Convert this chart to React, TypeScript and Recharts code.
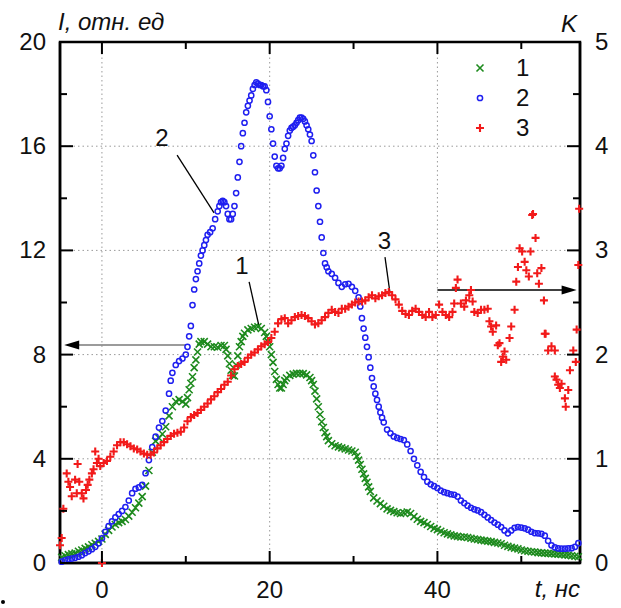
import React from "react";
import {
  ScatterChart,
  Scatter,
  XAxis,
  YAxis,
  Legend,
  ReferenceLine,
  ReferenceDot,
  ReferenceArea,
} from "recharts";

// curve 1 (green x), I, rel. units
const series1: [number, number][] = [
  [-4.8, 0.22], [-4.4, 0.28], [-4.0, 0.32], [-3.6, 0.35], [-3.2, 0.38], [-2.8, 0.45], [-2.4, 0.5], [-2.0, 0.56],
  [-1.6, 0.62], [-1.2, 0.7], [-0.8, 0.76], [-0.4, 0.83], [0.0, 0.92], [0.4, 1.1], [0.8, 1.25], [1.2, 1.38],
  [1.6, 1.48], [2.0, 1.55], [2.4, 1.6], [2.8, 1.67], [3.2, 1.8], [3.6, 1.95], [4.0, 2.12], [4.4, 2.3],
  [4.8, 2.55], [5.2, 2.95], [5.6, 3.55], [6.0, 4.25], [6.4, 4.68], [6.8, 4.8], [7.2, 4.95], [7.6, 5.23],
  [8.0, 5.65], [8.4, 6.0], [8.8, 6.2], [9.2, 6.27], [9.6, 6.2], [10.0, 6.1], [10.2, 6.35], [10.4, 6.65],
  [10.6, 6.9], [10.8, 7.15], [11.0, 7.5], [11.2, 7.8], [11.4, 8.1], [11.6, 8.4], [11.8, 8.5], [12.2, 8.5],
  [12.6, 8.4], [13.0, 8.3], [13.4, 8.3], [13.8, 8.28], [14.2, 8.35], [14.6, 8.35], [14.8, 8.2], [15.0, 7.95],
  [15.2, 7.65], [15.4, 7.4], [15.6, 7.2], [15.8, 7.18], [16.0, 7.6], [16.2, 7.95], [16.4, 8.3], [16.6, 8.5],
  [16.8, 8.7], [17.0, 8.82], [17.4, 8.95], [17.8, 9.0], [18.2, 9.05], [18.6, 9.07], [19.0, 9.0], [19.4, 8.85],
  [19.6, 8.7], [19.8, 8.5], [20.0, 8.3], [20.2, 8.0], [20.4, 7.7], [20.6, 7.35], [20.8, 7.05], [21.0, 6.85],
  [21.2, 6.72], [21.4, 6.72], [21.6, 6.85], [21.8, 7.0], [22.0, 7.1], [22.4, 7.2], [22.8, 7.25], [23.2, 7.28],
  [23.6, 7.28], [24.0, 7.27], [24.4, 7.22], [24.8, 7.12], [25.0, 7.0], [25.2, 6.85], [25.4, 6.6], [25.6, 6.3],
  [25.8, 6.0], [26.0, 5.7], [26.2, 5.42], [26.4, 5.2], [26.6, 5.0], [26.8, 4.85], [27.0, 4.7], [27.4, 4.58],
  [27.8, 4.5], [28.2, 4.46], [28.6, 4.42], [29.0, 4.38], [29.4, 4.34], [29.8, 4.3], [30.2, 4.25], [30.4, 4.1],
  [30.6, 3.95], [30.8, 3.78], [31.0, 3.6], [31.2, 3.42], [31.4, 3.25], [31.6, 3.1], [31.8, 2.92], [32.0, 2.75],
  [32.4, 2.5], [32.8, 2.38], [33.2, 2.28], [33.6, 2.18], [34.0, 2.08], [34.4, 2.02], [34.8, 1.97], [35.2, 1.93],
  [35.6, 1.9], [36.0, 1.93], [36.4, 1.96], [36.8, 1.9], [37.2, 1.78], [37.6, 1.68], [38.0, 1.6], [38.4, 1.55],
  [38.8, 1.48], [39.2, 1.4], [39.6, 1.33], [40.0, 1.28], [40.4, 1.22], [40.8, 1.16], [41.2, 1.12], [41.6, 1.08],
  [42.0, 1.04], [42.4, 1.02], [42.8, 1.0], [43.2, 1.0], [43.6, 0.98], [44.0, 0.95], [44.4, 0.92], [44.8, 0.9],
  [45.2, 0.88], [45.6, 0.86], [46.0, 0.84], [46.4, 0.82], [46.8, 0.79], [47.2, 0.77], [47.6, 0.74], [48.0, 0.68],
  [48.4, 0.64], [48.8, 0.6], [49.2, 0.57], [49.6, 0.54], [50.0, 0.5], [50.4, 0.47], [50.8, 0.45], [51.2, 0.43],
  [51.6, 0.42], [52.0, 0.4], [52.4, 0.39], [52.8, 0.38], [53.2, 0.37], [53.6, 0.36], [54.0, 0.35], [54.4, 0.34],
  [54.8, 0.33], [55.2, 0.31], [55.6, 0.3], [56.0, 0.28], [56.4, 0.26], [56.8, 0.24],
];

// curve 2 (blue circles), I, rel. units
const series2: [number, number][] = [
  [-4.8, 0.05], [-4.4, 0.1], [-4.0, 0.14], [-3.6, 0.17], [-3.2, 0.2], [-2.8, 0.24], [-2.4, 0.3], [-2.0, 0.38],
  [-1.6, 0.45], [-1.2, 0.53], [-0.8, 0.62], [-0.4, 0.76], [0.0, 0.95], [0.4, 1.2], [0.8, 1.42], [1.2, 1.6],
  [1.6, 1.75], [2.0, 1.88], [2.4, 2.0], [2.8, 2.15], [3.2, 2.4], [3.6, 2.68], [4.0, 2.85], [4.4, 2.9],
  [4.8, 3.0], [5.2, 3.45], [5.6, 3.95], [6.0, 4.45], [6.4, 4.85], [6.8, 5.2], [7.2, 5.45], [7.6, 5.85],
  [8.0, 6.5], [8.2, 7.0], [8.4, 7.3], [8.8, 7.6], [9.2, 7.75], [9.6, 7.85], [10.0, 8.0], [10.2, 8.3],
  [10.4, 8.7], [10.6, 9.1], [10.8, 9.9], [11.0, 10.5], [11.2, 10.9], [11.4, 11.2], [11.6, 11.5], [11.8, 11.8],
  [12.0, 12.0], [12.2, 12.2], [12.4, 12.4], [12.6, 12.6], [12.9, 12.7], [13.2, 12.85], [13.5, 13.2], [13.8, 13.5],
  [14.0, 13.7], [14.2, 13.85], [14.4, 13.9], [14.6, 13.85], [14.8, 13.7], [15.0, 13.4], [15.2, 13.2], [15.4, 13.2],
  [15.6, 13.4], [15.8, 13.7], [16.0, 14.2], [16.2, 14.8], [16.4, 15.4], [16.6, 16.0], [16.8, 16.5], [17.0, 16.9],
  [17.2, 17.3], [17.4, 17.55], [17.6, 17.75], [17.8, 17.95], [18.0, 18.2], [18.2, 18.35], [18.4, 18.45], [18.6, 18.4],
  [18.8, 18.35], [19.0, 18.35], [19.2, 18.3], [19.4, 18.3], [19.6, 18.15], [19.8, 17.7], [20.0, 17.15], [20.2, 16.65],
  [20.4, 16.1], [20.6, 15.6], [20.8, 15.25], [21.0, 15.15], [21.2, 15.15], [21.4, 15.25], [21.6, 15.55], [21.8, 15.9],
  [22.0, 16.1], [22.2, 16.4], [22.4, 16.6], [22.6, 16.7], [22.8, 16.75], [23.0, 16.8], [23.2, 16.9], [23.4, 17.0],
  [23.6, 17.1], [23.8, 17.1], [24.0, 17.05], [24.2, 16.95], [24.4, 16.8], [24.6, 16.65], [24.8, 16.45], [25.0, 16.2],
  [25.2, 15.65], [25.4, 15.0], [25.6, 14.3], [25.8, 13.7], [26.0, 13.1], [26.2, 12.5], [26.4, 11.9], [26.6, 11.5],
  [26.8, 11.35], [27.0, 11.2], [27.4, 11.1], [27.8, 10.95], [28.2, 10.75], [28.6, 10.6], [29.0, 10.7], [29.4, 10.72],
  [29.8, 10.6], [30.2, 10.45], [30.6, 10.2], [30.8, 9.85], [31.0, 9.4], [31.2, 9.0], [31.4, 8.65], [31.6, 8.3],
  [31.8, 7.9], [32.0, 7.5], [32.2, 7.1], [32.4, 6.78], [32.6, 6.5], [32.8, 6.26], [33.0, 6.0], [33.2, 5.78],
  [33.4, 5.58], [33.6, 5.4], [34.0, 5.12], [34.4, 4.98], [34.8, 4.86], [35.2, 4.8], [35.6, 4.76], [36.0, 4.72],
  [36.4, 4.55], [36.8, 4.3], [37.2, 4.0], [37.6, 3.75], [38.0, 3.5], [38.4, 3.3], [38.8, 3.12], [39.2, 3.02],
  [39.6, 2.95], [40.0, 2.88], [40.4, 2.78], [40.8, 2.72], [41.2, 2.68], [41.6, 2.64], [42.0, 2.62], [42.4, 2.55],
  [42.8, 2.4], [43.2, 2.3], [43.6, 2.2], [44.0, 2.12], [44.4, 2.06], [44.8, 2.02], [45.2, 1.95], [45.6, 1.85],
  [46.0, 1.75], [46.4, 1.65], [46.8, 1.55], [47.2, 1.47], [47.6, 1.38], [48.0, 1.25], [48.4, 1.14], [48.8, 1.25],
  [49.2, 1.35], [49.6, 1.38], [50.0, 1.36], [50.4, 1.33], [50.8, 1.28], [51.2, 1.2], [51.6, 1.15], [52.0, 1.14],
  [52.4, 1.12], [52.8, 1.05], [53.2, 0.85], [53.6, 0.68], [54.0, 0.6], [54.4, 0.56], [54.8, 0.55], [55.2, 0.55],
  [55.6, 0.56], [56.0, 0.57], [56.4, 0.62], [56.8, 0.76],
];

// curve 3 (red plus), K on right axis
const series3: [number, number][] = [
  [-5.0, 0.17], [-4.8, 0.24], [-4.6, 0.52], [-4.2, 0.86], [-4.0, 0.78], [-3.8, 0.73], [-3.6, 0.64], [-3.2, 0.8],
  [-3.0, 0.67], [-2.9, 0.95], [-2.7, 0.78], [-2.4, 0.67], [-2.2, 0.62], [-1.9, 0.7], [-1.7, 0.75], [-1.5, 0.8],
  [-1.2, 0.86], [-1.0, 0.9], [-0.8, 1.07], [-0.6, 0.96], [-0.4, 1.0], [-0.2, 0.93], [0.0, 0.0], [0.2, 0.96],
  [0.6, 0.98], [1.0, 1.02], [1.4, 1.07], [1.8, 1.13], [2.2, 1.16], [2.6, 1.16], [3.0, 1.14], [3.4, 1.12],
  [3.8, 1.1], [4.2, 1.09], [4.6, 1.07], [5.0, 1.05], [5.4, 1.04], [5.8, 1.04], [6.2, 1.06], [6.6, 1.1],
  [7.0, 1.13], [7.4, 1.16], [7.8, 1.19], [8.2, 1.22], [8.6, 1.24], [9.0, 1.25], [9.4, 1.26], [9.8, 1.3],
  [10.2, 1.36], [10.6, 1.4], [11.0, 1.42], [11.4, 1.44], [11.8, 1.47], [12.2, 1.5], [12.6, 1.53], [13.0, 1.57],
  [13.4, 1.6], [13.8, 1.64], [14.2, 1.67], [14.6, 1.71], [15.0, 1.74], [15.4, 1.8], [15.8, 1.86], [16.2, 1.89],
  [16.6, 1.91], [17.0, 1.93], [17.4, 1.97], [17.8, 2.0], [18.2, 2.02], [18.6, 2.05], [19.0, 2.08], [19.4, 2.1],
  [19.8, 2.12], [20.2, 2.16], [20.6, 2.22], [21.0, 2.3], [21.4, 2.34], [21.8, 2.35], [22.2, 2.3], [22.6, 2.33],
  [23.0, 2.36], [23.4, 2.37], [23.8, 2.38], [24.2, 2.37], [24.6, 2.35], [25.0, 2.32], [25.4, 2.29], [25.8, 2.3],
  [26.2, 2.33], [26.6, 2.36], [27.0, 2.4], [27.4, 2.43], [27.8, 2.41], [28.2, 2.4], [28.6, 2.44], [29.0, 2.44],
  [29.4, 2.46], [29.8, 2.48], [30.2, 2.5], [30.6, 2.51], [31.0, 2.51], [31.4, 2.52], [31.8, 2.55], [32.2, 2.57],
  [32.6, 2.54], [33.0, 2.56], [33.4, 2.57], [33.8, 2.59], [34.2, 2.6], [34.6, 2.57], [35.0, 2.53], [35.4, 2.48],
  [35.8, 2.42], [36.2, 2.39], [36.6, 2.38], [37.0, 2.42], [37.4, 2.44], [37.8, 2.41], [38.2, 2.38], [38.6, 2.36],
  [39.0, 2.41], [39.4, 2.36], [39.8, 2.38], [40.2, 2.48], [40.6, 2.41], [41.0, 2.38], [41.4, 2.36], [41.8, 2.41],
  [42.0, 2.49], [42.2, 2.64], [42.4, 2.72], [42.8, 2.49], [43.2, 2.46], [43.4, 2.52], [43.8, 2.57], [44.0, 2.62],
  [44.2, 2.51], [44.4, 2.41], [44.8, 2.4], [45.2, 2.43], [45.6, 2.43], [46.0, 2.44], [46.2, 2.32], [46.4, 2.27],
  [46.6, 2.22], [47.0, 2.28], [47.2, 2.09], [47.4, 2.11], [47.6, 1.93], [47.8, 1.98], [48.0, 2.03], [48.2, 1.95],
  [48.6, 2.16], [48.8, 2.27], [49.2, 2.43], [49.4, 2.7], [49.6, 2.84], [49.8, 3.02], [50.1, 2.99], [50.4, 2.89],
  [50.6, 2.81], [50.9, 2.75], [51.1, 2.99], [51.3, 3.34], [51.4, 3.35], [51.7, 3.12], [51.9, 2.78], [52.1, 2.68],
  [52.4, 2.83], [52.7, 2.52], [52.8, 2.2], [52.9, 2.2], [53.2, 2.04], [53.6, 2.08], [54.0, 2.04], [54.0, 1.79],
  [54.2, 1.76], [54.4, 1.71], [54.6, 1.68], [54.8, 1.72], [55.2, 1.58], [55.3, 1.5], [55.6, 1.66], [55.8, 1.85],
  [56.2, 2.04], [56.5, 1.93], [56.6, 2.24], [56.8, 2.86], [56.9, 3.4],
];

const T_DOMAIN: [number, number] = [-5, 57];
const I_DOMAIN: [number, number] = [0, 20];
const K_DOMAIN: [number, number] = [0, 5];
const tTicks = [0, 10, 20, 30, 40, 50];
const tLabeled = [0, 20, 40];
const iTicks = [0, 2, 4, 6, 8, 10, 12, 14, 16, 18, 20];
const iLabeled = [0, 4, 8, 12, 16, 20];
const kTicks = [0, 0.5, 1, 1.5, 2, 2.5, 3, 3.5, 4, 4.5, 5];
const kLabeled = [0, 1, 2, 3, 4, 5];
const tGrid = [0, 20, 40];
const iGrid = [4, 8, 12, 16];
const legendItems = [
  { name: "1", kind: "x" },
  { name: "2", kind: "o" },
  { name: "3", kind: "+" },
];

const GREEN = "#1d8a1d";
const BLUE = "#1f1ff0";
const RED = "#f21a1a";
const INK = "#111";
const FONT = "'Liberation Sans', Arial, sans-serif";
const MARGIN = { top: 42, right: 6, bottom: 5, left: 20 };

const toPts = (s: [number, number][]) => s.map(([t, v]) => ({ t, v }));

function XMark({ cx, cy }: any) {
  return (
    <path
      d={`M${cx - 3.5},${cy - 3.5}L${cx + 3.5},${cy + 3.5}M${cx - 3.5},${cy + 3.5}L${cx + 3.5},${cy - 3.5}`}
      stroke={GREEN}
      strokeWidth={1.6}
      fill="none"
    />
  );
}
function Ring({ cx, cy }: any) {
  return <circle cx={cx} cy={cy} r={2.6} fill="none" stroke={BLUE} strokeWidth={1.5} />;
}
function Plus({ cx, cy }: any) {
  return (
    <path
      d={`M${cx - 4},${cy}H${cx + 4}M${cx},${cy - 4}V${cy + 4}`}
      stroke={RED}
      strokeWidth={2.1}
      fill="none"
    />
  );
}

function BottomTick(p: any) {
  const v = p.payload.value;
  const major = tLabeled.includes(v);
  const len = major ? 12 : 7;
  return (
    <g>
      <line x1={p.x} x2={p.x} y1={p.y} y2={p.y - len} stroke="#000" strokeWidth={2} />
      <line x1={p.x} x2={p.x} y1={MARGIN.top} y2={MARGIN.top + len} stroke="#000" strokeWidth={2} />
      {major && (
        <text x={p.x} y={p.y + 35} textAnchor="middle" fontSize={24} fill={INK} fontFamily={FONT}>
          {v}
        </text>
      )}
    </g>
  );
}
function LeftTick(p: any) {
  const v = p.payload.value;
  const major = iLabeled.includes(v);
  return (
    <g>
      <line x1={p.x} x2={p.x + (major ? 13 : 7)} y1={p.y} y2={p.y} stroke="#000" strokeWidth={2} />
      {major && (
        <text x={p.x - 14} y={p.y + 8} textAnchor="end" fontSize={24} fill={INK} fontFamily={FONT}>
          {v}
        </text>
      )}
    </g>
  );
}
function RightTick(p: any) {
  const v = p.payload.value;
  const major = kLabeled.includes(v);
  return (
    <g>
      <line x1={p.x} x2={p.x - (major ? 13 : 7)} y1={p.y} y2={p.y} stroke="#000" strokeWidth={2} />
      {major && (
        <text x={p.x + 15} y={p.y + 8} textAnchor="start" fontSize={24} fill={INK} fontFamily={FONT}>
          {v}
        </text>
      )}
    </g>
  );
}

function LegendBox() {
  return (
    <div style={{ fontFamily: FONT, fontSize: 24, color: INK, lineHeight: "30px" }}>
      {legendItems.map((it) => (
        <div key={it.name} style={{ display: "flex", alignItems: "center", height: 30 }}>
          <svg width={28} height={30}>
            {it.kind === "x" && <XMark cx={14} cy={15} />}
            {it.kind === "o" && <Ring cx={14} cy={15} />}
            {it.kind === "+" && <Plus cx={14} cy={15} />}
          </svg>
          <span style={{ marginLeft: 22 }}>{it.name}</span>
        </div>
      ))}
    </div>
  );
}

const ArrowLeft = ({ cx, cy }: any) => (
  <path d={`M${cx},${cy}L${cx + 15},${cy - 4.5}L${cx + 15},${cy + 4.5}Z`} fill="#000" />
);
const ArrowRight = ({ cx, cy }: any) => (
  <path d={`M${cx},${cy}L${cx - 15},${cy - 4.5}L${cx - 15},${cy + 4.5}Z`} fill="#000" />
);

const gridStyle = { stroke: "#9a9a9a", strokeWidth: 1, strokeDasharray: "1.5 3" };

export default function App() {
  return (
    <div style={{ position: "absolute", left: 0, top: 0, background: "#fff" }}>
      <ScatterChart width={621} height={608} margin={MARGIN}>
        <XAxis
          type="number"
          dataKey="t"
          domain={T_DOMAIN}
          ticks={tTicks}
          interval={0}
          height={40}
          tickSize={0}
          tickMargin={0}
          tickLine={false}
          axisLine={{ stroke: "#000", strokeWidth: 2.5 }}
          tick={BottomTick}
          label={(props: any) => {
            const vb = props.viewBox;
            return (
              <text
                x={vb.x + vb.width}
                y={vb.y + 34}
                textAnchor="end"
                fontSize={24}
                fontStyle="italic"
                fill={INK}
                fontFamily={FONT}
              >
                t, нс
              </text>
            );
          }}
        />
        <YAxis
          yAxisId="left"
          type="number"
          dataKey="v"
          domain={I_DOMAIN}
          ticks={iTicks}
          interval={0}
          width={40}
          tickSize={0}
          tickMargin={0}
          tickLine={false}
          axisLine={{ stroke: "#000", strokeWidth: 2.5 }}
          tick={LeftTick}
          label={(props: any) => {
            const vb = props.viewBox;
            return (
              <text
                x={vb.x + vb.width - 2}
                y={vb.y - 12}
                textAnchor="start"
                fontSize={24}
                fontStyle="italic"
                fill={INK}
                fontFamily={FONT}
              >
                I, отн. ед
              </text>
            );
          }}
        />
        <YAxis
          yAxisId="right"
          orientation="right"
          type="number"
          dataKey="v"
          domain={K_DOMAIN}
          ticks={kTicks}
          interval={0}
          width={35}
          tickSize={0}
          tickMargin={0}
          tickLine={false}
          axisLine={{ stroke: "#000", strokeWidth: 2.5 }}
          tick={RightTick}
          label={(props: any) => {
            const vb = props.viewBox;
            return (
              <text
                x={vb.x - 3}
                y={vb.y - 10}
                textAnchor="end"
                fontSize={24}
                fontStyle="italic"
                fill={INK}
                fontFamily={FONT}
              >
                K
              </text>
            );
          }}
        />

        {tGrid.map((t) => (
          <ReferenceLine key={"gx" + t} x={t} yAxisId="left" {...gridStyle} />
        ))}
        {iGrid.map((v) => (
          <ReferenceLine key={"gy" + v} y={v} yAxisId="left" {...gridStyle} />
        ))}
        <ReferenceArea
          x1={T_DOMAIN[0]}
          x2={T_DOMAIN[1]}
          y1={I_DOMAIN[0]}
          y2={I_DOMAIN[1]}
          yAxisId="left"
          fill="none"
          fillOpacity={0}
          stroke="#000"
          strokeWidth={2.5}
        />

        <Scatter
          name="1"
          yAxisId="left"
          data={toPts(series1)}
          shape={(p: any) => <XMark cx={p.cx} cy={p.cy} />}
          isAnimationActive={false}
        />
        <Scatter
          name="2"
          yAxisId="left"
          data={toPts(series2)}
          shape={(p: any) => <Ring cx={p.cx} cy={p.cy} />}
          isAnimationActive={false}
        />
        <Scatter
          name="3"
          yAxisId="right"
          data={toPts(series3)}
          shape={(p: any) => <Plus cx={p.cx} cy={p.cy} />}
          isAnimationActive={false}
        />

        {/* arrows pointing to the axes */}
        <ReferenceLine
          yAxisId="left"
          segment={[{ x: 9.9, y: 8.37 }, { x: -3.5, y: 8.37 }]}
          stroke="#7a7a7a"
          strokeWidth={1.5}
        />
        <ReferenceDot yAxisId="left" x={-4.5} y={8.37} r={0} shape={ArrowLeft} />
        <ReferenceLine
          yAxisId="right"
          segment={[{ x: 40, y: 2.62 }, { x: 55.5, y: 2.62 }]}
          stroke="#000"
          strokeWidth={1.3}
        />
        <ReferenceDot yAxisId="right" x={56.6} y={2.62} r={0} shape={ArrowRight} />

        {/* curve labels */}
        <ReferenceLine yAxisId="left" segment={[{ x: 8.96, y: 15.66 }, { x: 13.37, y: 13.44 }]} stroke="#000" strokeWidth={1.3} />
        <ReferenceLine yAxisId="left" segment={[{ x: 17.55, y: 10.79 }, { x: 18.75, y: 9.06 }]} stroke="#000" strokeWidth={1.3} />
        <ReferenceLine yAxisId="left" segment={[{ x: 33.75, y: 11.74 }, { x: 34.35, y: 10.35 }]} stroke="#000" strokeWidth={1.3} />
        <ReferenceDot yAxisId="left" x={7.16} y={16.35} r={0} fill="none" stroke="none"
          label={{ value: "2", position: "center", fontSize: 24, fill: INK, fontFamily: FONT }} />
        <ReferenceDot yAxisId="left" x={16.7} y={11.44} r={0} fill="none" stroke="none"
          label={{ value: "1", position: "center", fontSize: 24, fill: INK, fontFamily: FONT }} />
        <ReferenceDot yAxisId="left" x={33.67} y={12.4} r={0} fill="none" stroke="none"
          label={{ value: "3", position: "center", fontSize: 24, fill: INK, fontFamily: FONT }} />

        <Legend
          layout="vertical"
          align="center"
          verticalAlign="middle"
          content={<LegendBox />}
          wrapperStyle={{ left: 466, top: 53, width: 90, height: 92 }}
        />
      </ScatterChart>
      <div
        style={{ position: "absolute", left: 1, top: 600, width: 4, height: 4, borderRadius: 2, background: "#000" }}
      />
    </div>
  );
}
